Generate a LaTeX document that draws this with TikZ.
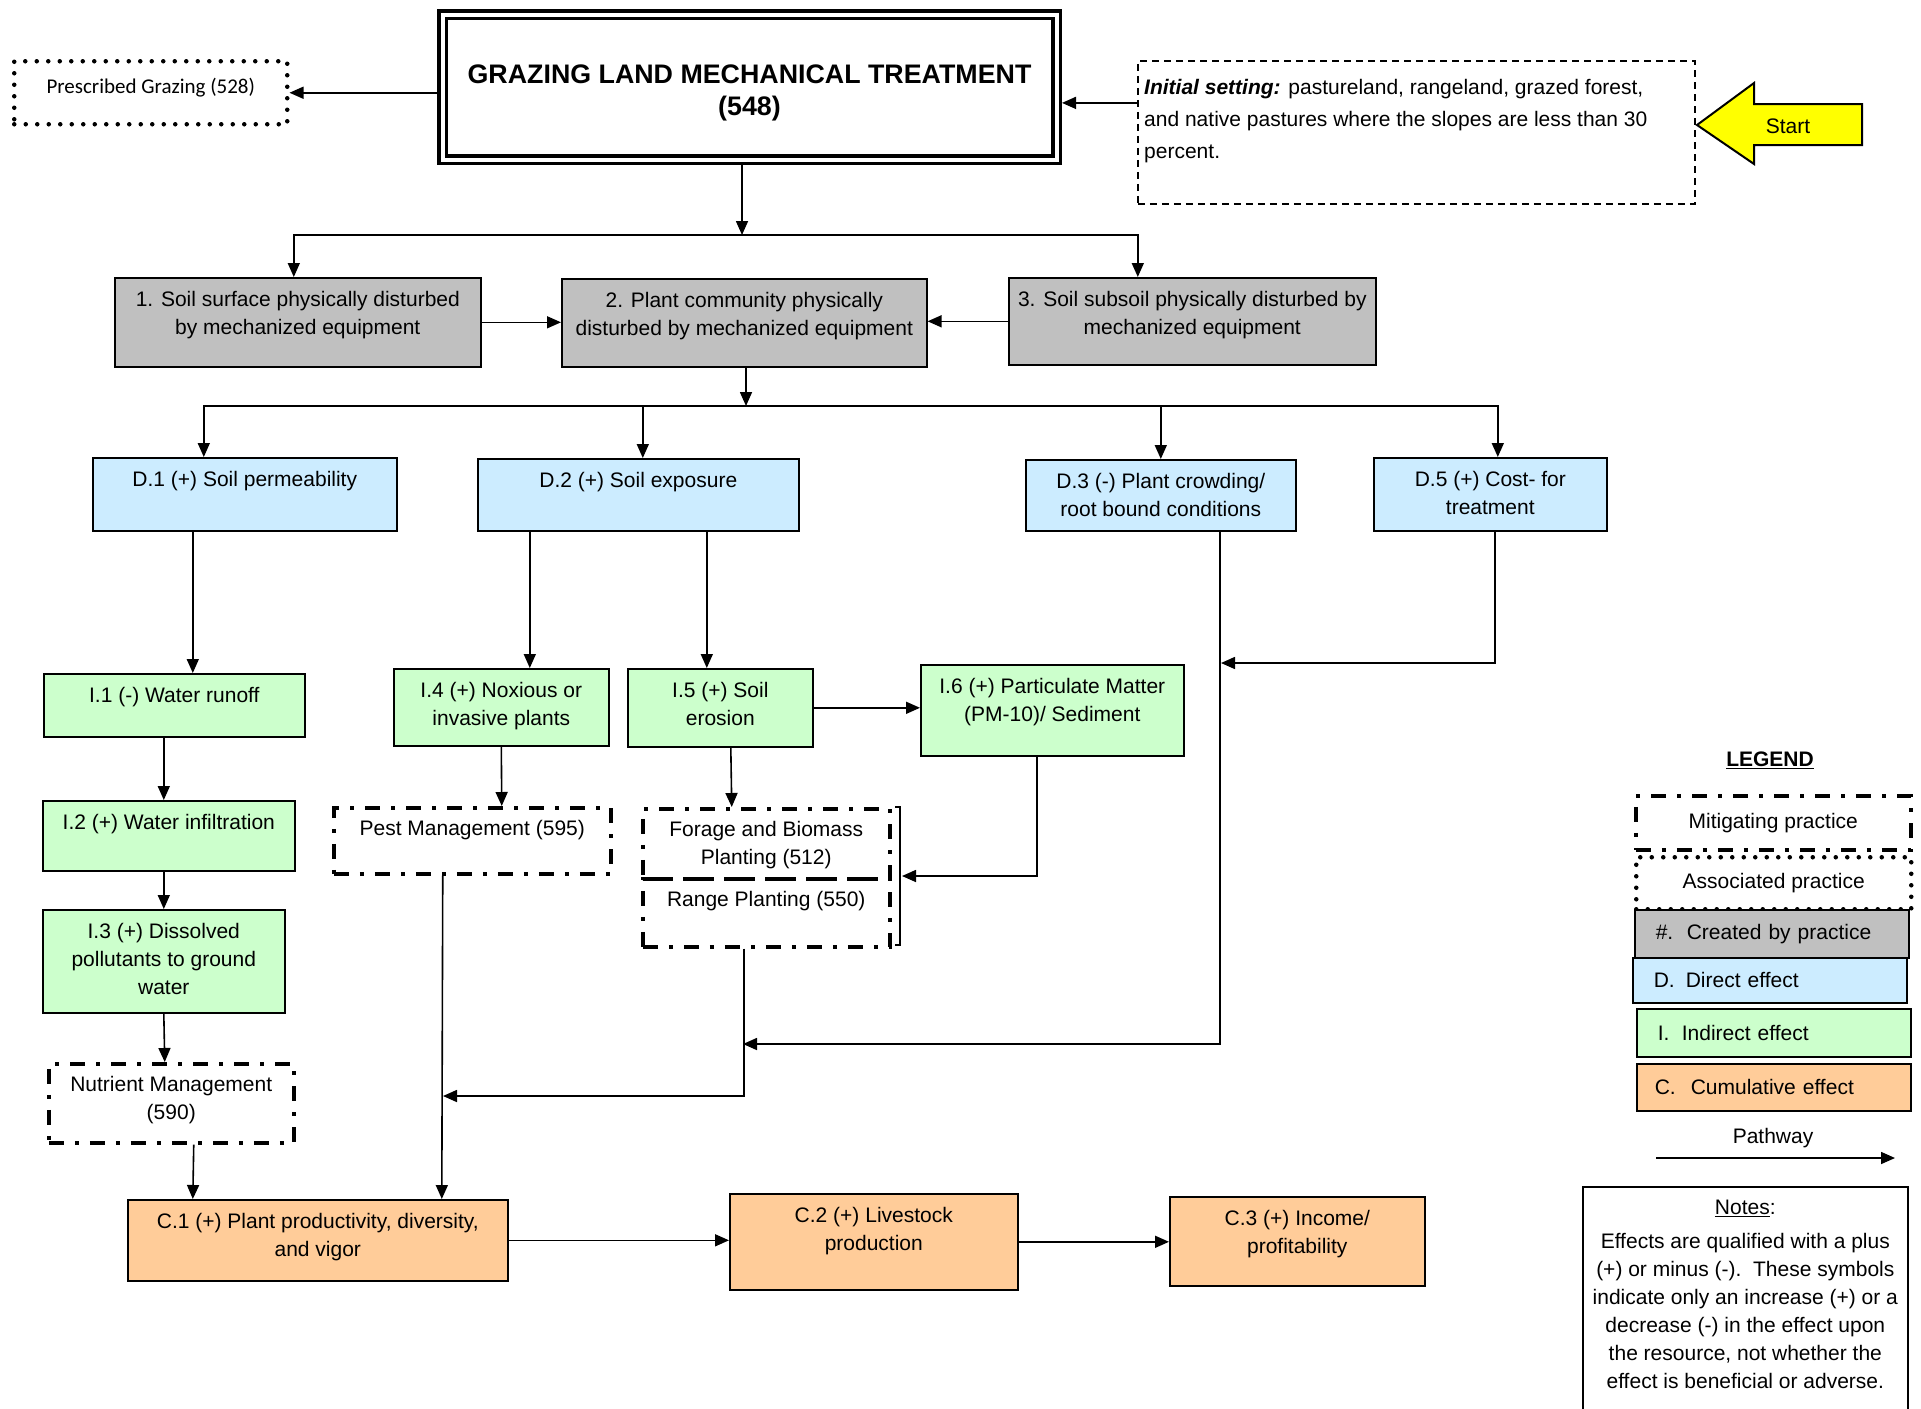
\documentclass[tikz,border=0pt]{standalone}
\usepackage{fontspec}
\setmainfont{Liberation Sans}
\newfontfamily\carlito{Carlito}
\usetikzlibrary{arrows.meta}
\definecolor{created}{HTML}{C0C0C0}
\definecolor{direct}{HTML}{CCECFF}
\definecolor{indirect}{HTML}{CCFFCC}
\definecolor{cumul}{HTML}{FFCC99}
\definecolor{startyel}{HTML}{FFFF00}
\newcommand\bodyfont{\fontsize{21}{28}\selectfont}

\begin{document}
\begin{tikzpicture}[x=1pt, y=-1pt,
  every node/.style={font=\bodyfont},
  fx/.style={draw, line width=1.6pt, anchor=north west, inner sep=0pt},
  tx/.style={label={[align=center, inner sep=0pt, anchor=north, yshift=-14pt]north:{#1}}},
  mitig/.style={fx, line width=3.5pt, dash pattern=on 15pt off 11pt on 4pt off 11pt},
  assoc/.style={fx, line width=4.5pt, line cap=round, dash pattern=on 0pt off 11.5pt},
  lg/.style={fx, inner xsep=21pt, text width=232pt, align=left},
  path/.style={line width=1.6pt, -{Triangle[length=14pt, width=12pt]}}]

\useasboundingbox (0,0) rectangle (1921,1408);
\clip (0,0) rectangle (1921,1408);
\fill[white] (0,0) rectangle (1921,1408);

% --- practice, setting and start ---
\node[draw, line width=3.5pt, double, double distance=4pt, outer sep=5.5pt,
      minimum width=614pt, minimum height=145pt,
      label={[align=center, inner sep=0pt, anchor=north, yshift=-56pt,
              font=\fontsize{26.8}{32}\selectfont\bfseries]north:{GRAZING LAND MECHANICAL TREATMENT\\(548)}}] (title) at (749.5,87) {};
\node[assoc, minimum width=273pt, minimum height=63pt,
      label={[inner sep=0pt, anchor=north, yshift=-19pt,
              font=\carlito\fontsize{21}{26}\selectfont]north:{Prescribed Grazing (528)}}] (graze) at (12,59) {};
\node[fx, line width=1.8pt, dash pattern=on 7pt off 5pt, minimum width=557pt, minimum height=143pt,
      label={[align=left, anchor=north west, inner sep=0pt, xshift=7pt, yshift=-19pt,
              font=\fontsize{21}{32}\selectfont]north west:{\textbf{\textit{Initial setting:}} pastureland, rangeland, grazed forest,\\and native pastures where the slopes are less than 30\\percent.}}] (init) at (1137,60) {};
\draw[fill=startyel, line width=2pt] (1697,125) -- (1754,83) -- (1754,104) -- (1862,104)
  -- (1862,145) -- (1754,145) -- (1754,164) -- cycle;
\node (start) at (1788,126) {Start};

\coordinate (s0) at ([yshift=29.5pt]init.west);
\draw[path] (s0) -- (s0 -| title.east);
\draw[path] (title.west |- graze.east) -- (graze.east);

% --- created by practice ---
\node[fx, fill=created, minimum width=366pt, minimum height=89pt,
      tx={1. Soil surface physically disturbed\\by mechanized equipment}] (box1) at (114,277) {};
\node[fx, fill=created, minimum width=365pt, minimum height=88pt,
      tx={2. Plant community physically\\disturbed by mechanized equipment}] (box2) at (561,278) {};
\node[fx, fill=created, minimum width=367pt, minimum height=87pt,
      tx={3. Soil subsoil physically disturbed by\\mechanized equipment}] (box3) at (1008,277) {};

\coordinate (bus1) at (742,235);
\draw[path] (title.south -| bus1) -- (bus1);
\draw[path] (bus1) -| ([xshift=-4pt]box1.north);
\draw[path] (bus1) -| ([xshift=-54.5pt]box3.north);
\draw[path] (box1.east) -- (box1.east -| box2.west);
\draw[path] (box3.west) -- (box3.west -| box2.east);

% --- direct effects ---
\node[fx, fill=direct, minimum width=304pt, minimum height=73pt,
      tx={D.1 (+) Soil permeability}] (d1) at (92,457) {};
\node[fx, fill=direct, minimum width=321pt, minimum height=72pt,
      tx={D.2 (+) Soil exposure}] (d2) at (477,458) {};
\node[fx, fill=direct, minimum width=270pt, minimum height=71pt,
      tx={D.3 (-) Plant crowding/\\root bound conditions}] (d3) at (1025,459) {};
\node[fx, fill=direct, minimum width=233pt, minimum height=73pt,
      tx={D.5 (+) Cost- for\\treatment}] (d5) at (1373,457) {};

\coordinate (bus2) at (746,406);
\draw[path] (box2.south -| bus2) -- (bus2);
\draw[path] (bus2) -| ([xshift=-41pt]d1.north);
\draw[path] (bus2) -| ([xshift=4.5pt]d2.north);
\draw[path] (bus2) -| (d3.north);
\draw[path] (bus2) -| ([xshift=7.5pt]d5.north);

% --- indirect effects ---
\node[fx, fill=indirect, minimum width=261pt, minimum height=63pt,
      tx={I.1 (-) Water runoff}] (i1) at (43,673) {};
\node[fx, fill=indirect, minimum width=252pt, minimum height=70pt,
      tx={I.2 (+) Water infiltration}] (i2) at (42,800) {};
\node[fx, fill=indirect, minimum width=242pt, minimum height=103pt,
      tx={I.3 (+) Dissolved\\pollutants to ground\\water}] (i3) at (42,909) {};
\node[fx, fill=indirect, minimum width=215pt, minimum height=77pt,
      tx={I.4 (+) Noxious or\\invasive plants}] (i4) at (393,668) {};
\node[fx, fill=indirect, minimum width=185pt, minimum height=78pt,
      tx={I.5 (+) Soil\\erosion}] (i5) at (627,668) {};
\node[fx, fill=indirect, minimum width=263pt, minimum height=91pt,
      tx={I.6 (+) Particulate Matter\\(PM-10)/ Sediment}] (i6) at (920,664) {};

% --- mitigating practices ---
\node[mitig, minimum width=245pt, minimum height=79pt,
      tx={Nutrient Management\\(590)}] (nutr) at (47,1062) {};
\node[mitig, minimum width=277pt, minimum height=66pt,
      tx={Pest Management (595)}] (pest) at (332,806) {};
\node[mitig, minimum width=247pt, minimum height=70pt,
      tx={Forage and Biomass\\Planting (512)}] (forage) at (641,807) {};
\node[mitig, minimum width=247pt, minimum height=68pt,
      tx={Range Planting (550)}] (range) at (641,877) {};
\draw[line width=1.5pt] (895,807) -- (900,807) -- (900,945) -- (895,945);

% --- cumulative effects ---
\node[fx, fill=cumul, minimum width=380pt, minimum height=81pt,
      tx={C.1 (+) Plant productivity, diversity,\\and vigor}] (c1) at (127,1199) {};
\node[fx, fill=cumul, minimum width=288pt, minimum height=96pt,
      tx={C.2 (+) Livestock\\production}] (c2) at (729,1193) {};
\node[fx, fill=cumul, minimum width=255pt, minimum height=89pt,
      tx={C.3 (+) Income/\\profitability}] (c3) at (1169,1196) {};

% --- pathways ---
\draw[path] ([xshift=-52pt]d1.south) -- ([xshift=18.5pt]i1.north);
\draw[path] ([xshift=-10.5pt]i1.south) -- ([xshift=-5pt]i2.north);
\draw[path] ([xshift=-5pt]i2.south) -- (i3.north);
\draw[path] (i3.south) -- ([xshift=-6.5pt]nutr.north);
\draw[path] ([xshift=22.5pt]nutr.south) -- ([xshift=-125pt]c1.north);
\draw[path] ([xshift=-108.5pt]d2.south) -- ([xshift=28.5pt]i4.north);
\draw[path] ([xshift=68.5pt]d2.south) -- ([xshift=-13.5pt]i5.north);
\draw[path] (i5.east) -- (i5.east -| i6.west);
\draw[path] (i4.south) -- ([xshift=29.5pt]pest.north);
\draw[path] ([xshift=10.5pt]i5.south) -- ([xshift=-34.5pt]forage.north);
\coordinate (brk) at (902,876);
\draw[path] ([xshift=-15.5pt]i6.south) |- (brk);
\draw[path] ([xshift=-29.5pt]pest.south) -- ([xshift=124pt]c1.north);
\coordinate (m1) at (443,1096);
\draw[path] ([xshift=-22.5pt]range.south) |- (m1);
\coordinate (m2) at (743,1044);
\draw[path] ([xshift=59pt]d3.south) |- (m2);
\coordinate (m3) at (1221,663);
\draw[path] ([xshift=4.5pt]d5.south) |- (m3);
\draw[path] (c1.east) -- (c1.east -| c2.west);
\draw[path] (c2.east) -- (c2.east -| c3.west);

% --- legend ---
\node[font=\bodyfont\bfseries] (lgtitle) at (1770,760) {\underline{LEGEND}};
\node[mitig, minimum width=275pt, minimum height=54pt] (lgmit) at (1634,794) {Mitigating practice};
\node[assoc, minimum width=275pt, minimum height=52pt] (lgass) at (1634,855) {Associated practice};
\node[lg, fill=created, minimum height=48pt] (lgcre) at (1634,909) {\makebox[31pt][l]{\#.}Created by practice};
\node[lg, fill=direct, minimum height=45pt] (lgdir) at (1632,957) {\makebox[32pt][l]{D.}Direct effect};
\node[lg, fill=indirect, minimum height=48pt] (lgind) at (1636,1008) {\makebox[24pt][l]{I.}Indirect effect};
\node[lg, fill=cumul, minimum height=47pt, inner xsep=18pt, text width=238pt] (lgcum) at (1636,1063) {\makebox[36pt][l]{C.}Cumulative effect};
\node (lgpath) at (1773,1138) {Pathway};
\coordinate (pw0) at (1656,1158);
\coordinate (pw1) at (1895,1158);
\draw[path] (pw0) -- (pw1);

% --- notes ---
\node[fx, minimum width=325pt, minimum height=240pt,
      tx={\underline{Notes}:\\[6pt]Effects are qualified with a plus\\(+) or minus (-).\ \ These symbols\\indicate only an increase (+) or a\\decrease (-) in the effect upon\\the resource, not whether the\\effect is beneficial or adverse.}] (notes) at (1582,1186) {};

\end{tikzpicture}
\end{document}
